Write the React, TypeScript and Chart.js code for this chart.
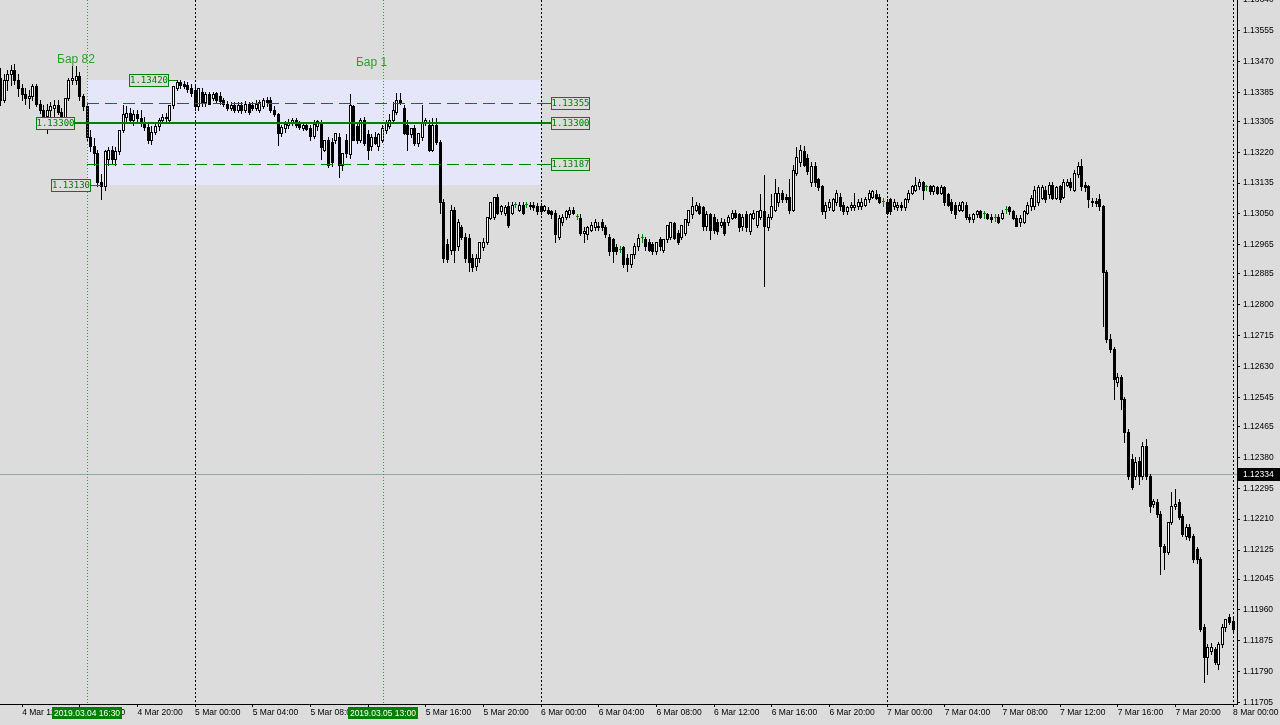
import { useEffect, useRef } from "react";
import { Chart, registerables } from "chart.js";

Chart.register(...registerables);

// EURUSD M15, 4 Mar 2019 10:30 ... 8 Mar 2019 00:00
// each candle: [open, high, low, close] in points (0.00001) above 1.10000
const BASE_PRICE = 1.1;
const POINT = 0.00001;
const candles: number[][] = [
  [3425,3453,3351,3365],[3365,3434,3359,3420],[3420,3447,3392,3434],[3434,3461,3406,3447],[3447,3464,3409,3420],
  [3420,3434,3376,3398],[3398,3409,3365,3379],[3379,3398,3354,3370],[3370,3392,3343,3376],[3376,3409,3365,3403],
  [3403,3409,3348,3354],[3354,3365,3329,3337],[3337,3351,3304,3321],[3321,3354,3274,3337],[3337,3359,3315,3348],
  [3343,3365,3321,3351],[3351,3365,3324,3332],[3332,3343,3310,3318],[3318,3370,3307,3370],[3370,3425,3365,3420],
  [3420,3458,3409,3425],[3420,3458,3409,3431],[3431,3442,3365,3376],[3376,3381,3337,3348],[3348,3354,3255,3263],
  [3263,3282,3222,3236],[3236,3260,3186,3219],[3219,3227,3126,3137],[3137,3159,3090,3126],[3126,3227,3117,3222],
  [3200,3233,3186,3227],[3227,3238,3189,3200],[3200,3233,3186,3222],[3222,3282,3214,3282],[3282,3351,3277,3324],
  [3318,3348,3304,3329],[3329,3343,3304,3310],[3310,3337,3296,3324],[3324,3337,3304,3315],[3315,3337,3293,3301],
  [3301,3318,3282,3290],[3290,3301,3246,3255],[3255,3293,3244,3277],[3277,3304,3269,3293],[3293,3315,3282,3310],
  [3310,3326,3304,3318],[3318,3329,3307,3315],[3310,3351,3304,3351],[3351,3401,3343,3401],[3398,3420,3392,3414],
  [3414,3420,3398,3406],[3409,3417,3398,3403],[3406,3414,3387,3395],[3398,3409,3376,3384],[3392,3403,3337,3346],
  [3346,3398,3337,3398],[3387,3398,3348,3357],[3357,3387,3346,3379],[3379,3387,3354,3354],[3370,3387,3365,3381],
  [3384,3387,3359,3365],[3376,3387,3354,3362],[3365,3370,3348,3354],[3354,3362,3337,3343],[3343,3359,3335,3351],
  [3351,3357,3332,3337],[3337,3359,3332,3351],[3351,3357,3329,3337],[3337,3362,3332,3354],[3354,3359,3326,3332],
  [3351,3357,3337,3343],[3343,3365,3337,3354],[3337,3365,3332,3357],[3348,3370,3343,3365],[3365,3373,3348,3357],
  [3365,3373,3332,3337],[3337,3348,3321,3324],[3324,3329,3241,3274],[3274,3296,3266,3290],[3288,3307,3277,3299],
  [3296,3312,3288,3304],[3304,3315,3296,3310],[3310,3315,3290,3296],[3299,3307,3285,3290],[3288,3304,3282,3296],
  [3296,3304,3280,3285],[3288,3296,3255,3266],[3266,3310,3260,3299],[3293,3310,3282,3307],[3304,3310,3200,3233],
  [3227,3255,3222,3255],[3255,3263,3178,3186],[3249,3260,3183,3192],[3255,3274,3246,3274],[3263,3274,3153,3186],
  [3186,3219,3172,3219],[3255,3269,3208,3219],[3214,3379,3205,3351],[3346,3351,3255,3255],[3291,3304,3246,3255],
  [3255,3315,3249,3310],[3310,3318,3241,3246],[3269,3282,3200,3227],[3236,3269,3227,3263],[3263,3277,3244,3246],
  [3236,3274,3227,3269],[3255,3296,3249,3288],[3282,3310,3274,3304],[3291,3324,3288,3310],[3310,3359,3304,3337],
  [3332,3384,3326,3365],[3365,3384,3354,3357],[3343,3351,3269,3274],[3296,3310,3227,3269],[3269,3288,3263,3288],
  [3288,3296,3241,3246],[3246,3274,3238,3274],[3263,3351,3255,3304],[3304,3315,3296,3310],[3296,3310,3222,3227],
  [3227,3315,3222,3296],[3296,3315,3244,3249],[3249,3255,3054,3082],[3082,3090,2917,2930],[2966,2980,2917,2925],
  [2952,3076,2939,3062],[3062,3068,2919,2952],[2961,3035,2952,3027],[3013,3021,2980,2988],[2988,2999,2919,2930],
  [2985,2994,2892,2919],[2930,2939,2892,2903],[2908,2939,2897,2930],[2930,2972,2919,2972],[2958,2985,2952,2974],
  [2972,3043,2966,3043],[3040,3084,3035,3084],[3043,3098,3035,3098],[3098,3104,3049,3054],[3057,3076,3049,3071],
  [3054,3076,3046,3068],[3071,3082,3013,3021],[3054,3084,3049,3076],[3076,3082,3068,3076],[3062,3082,3057,3076],
  [3076,3082,3049,3054],[3076,3082,3068,3076],[3071,3082,3065,3076],[3076,3082,3062,3068],[3071,3079,3051,3057],
  [3071,3079,3051,3057],[3062,3076,3057,3071],[3062,3068,3049,3054],[3057,3062,3040,3049],[3054,3062,2974,2994],
  [2988,3046,2980,3040],[3029,3051,3021,3043],[3043,3062,3035,3057],[3049,3068,3043,3062],[3062,3068,3049,3054],
  [3043,3051,3035,3043],[3040,3049,2991,2999],[2999,3013,2974,3002],[2994,3018,2980,3013],[3007,3029,3002,3021],
  [3013,3035,3007,3027],[3013,3029,3007,3018],[3027,3035,3007,3013],[3013,3021,2988,2994],[2988,2994,2936,2947],
  [2980,2985,2919,2947],[2958,2966,2939,2947],[2952,2961,2944,2952],[2958,2963,2903,2911],[2930,2939,2892,2911],
  [2911,2939,2903,2939],[2939,2969,2930,2961],[2961,2994,2952,2985],[2985,2996,2972,2985],[2980,2988,2952,2961],
  [2972,2980,2947,2952],[2966,2974,2939,2947],[2947,2974,2939,2974],[2980,2988,2952,2961],[2952,2980,2944,2980],
  [2980,3021,2974,3021],[2988,3029,2980,3029],[3024,3029,2980,2985],[2999,3007,2966,2974],[2988,3021,2980,3021],
  [2999,3035,2991,3035],[3027,3062,3021,3062],[3049,3098,3040,3071],[3062,3084,3057,3076],[3071,3079,3049,3054],
  [3068,3073,3007,3016],[3016,3057,3007,3049],[3049,3054,2980,3007],[3043,3049,2999,3007],[3029,3035,2996,3002],
  [3021,3038,3013,3029],[3029,3035,2991,2999],[3029,3046,3021,3043],[3040,3062,3035,3054],[3054,3062,3038,3043],
  [3049,3054,3004,3013],[3016,3051,3007,3043],[3049,3057,3002,3013],[3002,3054,2994,3049],[3040,3062,3035,3054],
  [3021,3057,3013,3057],[3043,3104,3035,3062],[3057,3156,2851,3016],[3013,3051,3007,3043],[3043,3104,3035,3071],
  [3062,3145,3057,3109],[3082,3123,3073,3109],[3109,3117,3082,3090],[3098,3106,3082,3090],[3098,3145,3054,3062],
  [3062,3186,3057,3172],[3164,3233,3156,3208],[3192,3241,3183,3227],[3222,3236,3181,3186],[3205,3214,3159,3167],
  [3137,3194,3128,3181],[3181,3192,3128,3137],[3145,3150,3117,3123],[3126,3131,3049,3057],[3057,3084,3040,3076],
  [3068,3090,3062,3082],[3062,3095,3057,3090],[3082,3117,3076,3109],[3098,3109,3062,3071],[3076,3082,3051,3057],
  [3057,3073,3051,3068],[3068,3082,3062,3076],[3068,3109,3062,3076],[3071,3090,3065,3082],[3071,3093,3065,3084],
  [3076,3098,3071,3090],[3090,3117,3084,3109],[3098,3117,3093,3112],[3106,3117,3090,3095],[3098,3106,3079,3084],
  [3084,3093,3073,3084],[3084,3090,3049,3054],[3090,3095,3051,3057],[3071,3090,3065,3082],[3068,3084,3062,3076],
  [3076,3082,3062,3068],[3068,3095,3062,3090],[3090,3117,3084,3109],[3109,3131,3104,3126],[3117,3153,3112,3131],
  [3126,3145,3120,3137],[3137,3142,3090,3117],[3123,3131,3115,3123],[3126,3131,3106,3112],[3112,3131,3106,3126],
  [3123,3128,3104,3109],[3109,3131,3104,3123],[3123,3128,3076,3082],[3104,3109,3071,3076],[3082,3090,3054,3062],
  [3076,3082,3040,3049],[3062,3082,3057,3076],[3062,3087,3057,3082],[3076,3082,3035,3043],[3043,3049,3029,3035],
  [3035,3054,3029,3049],[3049,3062,3043,3057],[3057,3062,3038,3043],[3049,3057,3040,3049],[3049,3054,3035,3040],
  [3043,3049,3029,3035],[3040,3049,3032,3040],[3043,3051,3024,3029],[3040,3060,3035,3054],[3062,3071,3054,3062],
  [3068,3073,3051,3057],[3057,3062,3035,3040],[3040,3046,3016,3018],[3027,3046,3018,3040],[3029,3062,3024,3057],
  [3054,3082,3049,3076],[3071,3101,3062,3095],[3071,3126,3065,3117],[3084,3131,3076,3123],[3095,3131,3090,3123],
  [3117,3128,3082,3090],[3104,3137,3095,3131],[3131,3139,3090,3095],[3095,3128,3090,3123],[3126,3131,3082,3090],
  [3098,3145,3093,3139],[3131,3145,3126,3139],[3139,3150,3115,3123],[3117,3172,3112,3164],[3159,3194,3153,3181],
  [3181,3200,3117,3126],[3131,3139,3112,3123],[3126,3131,3068,3090],[3082,3093,3073,3087],[3087,3093,3071,3079],
  [3090,3104,3062,3071],[3071,3076,2741,2889],[2889,2897,2697,2705],[2705,2719,2669,2677],[2677,2683,2540,2595],
  [2587,2611,2576,2600],[2600,2606,2512,2540],[2540,2546,2422,2449],[2449,2457,2320,2328],[2375,2389,2292,2298],
  [2328,2380,2320,2367],[2370,2380,2306,2328],[2328,2422,2320,2411],[2411,2430,2320,2328],[2328,2334,2229,2246],
  [2251,2265,2243,2259],[2257,2265,2215,2224],[2224,2232,2059,2136],[2136,2141,2072,2119],[2119,2202,2114,2202],
  [2202,2284,2196,2246],[2246,2292,2237,2251],[2257,2265,2210,2215],[2218,2224,2163,2169],[2163,2196,2155,2188],
  [2188,2196,2152,2160],[2163,2169,2092,2100],[2127,2133,2089,2100],[2100,2105,1902,1907],[1913,1921,1761,1830],
  [1830,1866,1784,1858],[1847,1870,1839,1858],[1852,1858,1811,1817],[1811,1872,1797,1866],[1866,1921,1858,1913],
  [1913,1935,1902,1935],[1940,1948,1921,1927],[1930,1943,1902,1907],
];

const priceTicks = [
  1.1364, 1.13555, 1.1347, 1.13385, 1.13305, 1.1322, 1.13135, 1.1305, 1.12965, 1.12885, 1.128, 1.12715,
  1.1263, 1.12545, 1.12465, 1.1238, 1.12295, 1.1221, 1.12125, 1.12045, 1.1196, 1.11875, 1.1179, 1.11705,
];
const timeTickBars = [6, 22, 38, 54, 70, 86, 102, 118, 134, 150, 166, 182, 198, 214, 230, 246, 262, 278, 294, 310, 326, 342];
const timeTickLabels = [
  "4 Mar 12:00", "4 Mar 16:00", "4 Mar 20:00", "5 Mar 00:00", "5 Mar 04:00", "5 Mar 08:00", "5 Mar 12:00",
  "5 Mar 16:00", "5 Mar 20:00", "6 Mar 00:00", "6 Mar 04:00", "6 Mar 08:00", "6 Mar 12:00", "6 Mar 16:00",
  "6 Mar 20:00", "7 Mar 00:00", "7 Mar 04:00", "7 Mar 08:00", "7 Mar 12:00", "7 Mar 16:00", "7 Mar 20:00",
  "8 Mar 00:00",
];
const daySeparatorBars = [54, 150, 246, 342];
const markerBars = [24, 106];
const markerNames = ["Бар 82", "Бар 1"];
const markerTimes = ["2019.03.04 16:30", "2019.03.05 13:00"];
const rangeBars = [24, 150];
const rangeHigh = 1.1342;
const rangeLow = 1.1313;
const rangeHighBar = 49;
const rangeLowBar = 28;
const levelMid = 1.133;
const levelUpper = 1.13355;
const levelLower = 1.13187;
const bidPrice = 1.12334;

const X_MIN = -0.14;
const X_MAX = 343.09;
const Y_MIN = 1.117012;
const Y_MAX = 1.13639;

const BG = "#dcdcdc";
const GREEN = "#008000";
const GREEN_LIGHT = "#2ca02c";
const AXIS_FONT = '"Liberation Sans", Arial, sans-serif';

const toPrice = (v: number) => BASE_PRICE + v * POINT;

function tag(ctx: any, left: number, yc: number, w: number, text: string) {
  const l = Math.round(left);
  const top = Math.round(yc) - 6;
  ctx.setLineDash([]);
  ctx.fillStyle = BG;
  ctx.fillRect(l, top, w, 13);
  ctx.strokeStyle = GREEN;
  ctx.lineWidth = 1;
  ctx.strokeRect(l + 0.5, top + 0.5, w - 1, 12);
  ctx.fillStyle = GREEN;
  ctx.font = '9px "DejaVu Sans Mono", monospace';
  ctx.textAlign = "center";
  ctx.textBaseline = "middle";
  ctx.fillText(text, l + w / 2, top + 7);
}

function hLine(ctx: any, x0: number, x1: number, y: number) {
  ctx.beginPath();
  ctx.moveTo(x0, y);
  ctx.lineTo(x1, y);
  ctx.stroke();
}
function vLine(ctx: any, x: number, y0: number, y1: number) {
  ctx.beginPath();
  ctx.moveTo(x, y0);
  ctx.lineTo(x, y1);
  ctx.stroke();
}

export default function App() {
  const ref = useRef<HTMLCanvasElement>(null);

  useEffect(() => {
    const canvas = ref.current;
    if (!canvas) return;

    const kinds = candles.map((c) => (c[3] > c[0] ? "up" : c[3] < c[0] ? "down" : "doji"));
    const bodies = candles.map((c, i) => ({ x: i, y: [toPrice(c[0]), toPrice(c[3])] }));
    const wicks = candles.map((c, i) => ({ x: i, y: [toPrice(c[2]), toPrice(c[1])] }));

    const overlay = {
      id: "overlay",
      beforeDraw(chart: any) {
        const { ctx, width, height } = chart;
        ctx.save();
        ctx.fillStyle = BG;
        ctx.fillRect(0, 0, width, height);
        ctx.restore();
      },
      beforeDatasetsDraw(chart: any) {
        const { ctx, chartArea: a, scales } = chart;
        const x = scales.x, y = scales.y;
        ctx.save();
        ctx.beginPath();
        ctx.rect(a.left, a.top, a.right - a.left, a.bottom - a.top);
        ctx.clip();
        // range rectangle
        const bx0 = Math.round(x.getPixelForValue(rangeBars[0]));
        const bx1 = Math.round(x.getPixelForValue(rangeBars[1]));
        const by0 = Math.round(y.getPixelForValue(rangeHigh));
        const by1 = Math.round(y.getPixelForValue(rangeLow));
        ctx.fillStyle = "#e6e6fa";
        ctx.fillRect(bx0, by0, bx1 - bx0, by1 - by0);
        // bid line
        ctx.strokeStyle = "#98a2b0";
        ctx.lineWidth = 1;
        hLine(ctx, a.left, a.right, Math.round(y.getPixelForValue(bidPrice)) + 0.5);
        // day separators
        ctx.strokeStyle = "#000";
        ctx.setLineDash([2, 2]);
        daySeparatorBars.forEach((b) => {
          const xx = Math.round(x.getPixelForValue(b)) + 0.5;
          vLine(ctx, xx, a.top, a.bottom);
        });
        ctx.restore();
      },
      beforeDatasetDraw(chart: any, args: any) {
        const { ctx, chartArea: a } = chart;
        const ds = chart.data.datasets[args.index];
        const isWick = ds.label === "wick";
        ctx.save();
        ctx.beginPath();
        ctx.rect(a.left, a.top, a.right - a.left, a.bottom - a.top);
        ctx.clip();
        args.meta.data.forEach((el: any, i: number) => {
          const p = el.getProps(["x", "y", "base"], true);
          const left = Math.round(p.x - 1.5);
          const top = Math.round(Math.min(p.y, p.base));
          const bot = Math.round(Math.max(p.y, p.base));
          const h = Math.max(1, bot - top);
          const k = kinds[i];
          if (isWick) {
            ctx.fillStyle = k === "doji" ? GREEN : "#000";
            ctx.fillRect(left + 1, top, 1, h + 1);
          } else if (k === "doji") {
            ctx.fillStyle = GREEN;
            ctx.fillRect(left, top, 3, 1);
          } else if (k === "up") {
            ctx.fillStyle = "#000";
            ctx.fillRect(left, top, 3, h + 1);
            if (h >= 2) {
              ctx.fillStyle = "#fff";
              ctx.fillRect(left + 1, top + 1, 1, h - 1);
            }
          } else {
            ctx.fillStyle = "#000";
            ctx.fillRect(left, top, 3, h + 1);
          }
        });
        ctx.restore();
        return false;
      },
      afterDatasetsDraw(chart: any) {
        const { ctx, chartArea: a, scales } = chart;
        const x = scales.x, y = scales.y;
        const lx0 = Math.round(x.getPixelForValue(rangeBars[0]));
        const lx1 = Math.round(x.getPixelForValue(rangeBars[1]));
        ctx.save();
        // marker vertical dotted lines
        ctx.strokeStyle = GREEN_LIGHT;
        ctx.lineWidth = 1;
        ctx.setLineDash([1, 2]);
        markerBars.forEach((b) => {
          const xx = Math.round(x.getPixelForValue(b)) + 0.5;
          vLine(ctx, xx, a.top, a.bottom);
        });
        // marker titles
        ctx.setLineDash([]);
        ctx.fillStyle = GREEN_LIGHT;
        ctx.font = '12px "Liberation Sans", Arial, sans-serif';
        ctx.textAlign = "center";
        ctx.textBaseline = "alphabetic";
        const titleY = [63, 66];
        markerBars.forEach((b, i) => {
          ctx.fillText(markerNames[i], x.getPixelForValue(b) - 11, a.top + titleY[i]);
        });
        // mid level (solid)
        const ym = Math.round(y.getPixelForValue(levelMid));
        ctx.fillStyle = GREEN;
        ctx.fillRect(lx0 - 12, ym - 1, lx1 + 10 - (lx0 - 12), 2);
        // dashed levels
        ctx.strokeStyle = GREEN;
        ctx.lineWidth = 1;
        [levelUpper, levelLower].forEach((lv) => {
          const yy = Math.round(y.getPixelForValue(lv)) + 0.5;
          ctx.strokeStyle = GREEN;
          ctx.setLineDash([12, 6]);
          hLine(ctx, lx0, lx1, yy);
          ctx.setLineDash([]);
          hLine(ctx, lx1, lx1 + 10, yy);
        });
        // high / low connectors
        const xh = Math.round(x.getPixelForValue(rangeHighBar));
        const yh = Math.round(y.getPixelForValue(rangeHigh)) + 0.5;
        hLine(ctx, xh - 8, xh, yh);
        const xl = Math.round(x.getPixelForValue(rangeLowBar));
        const yl = Math.round(y.getPixelForValue(rangeLow)) + 0.5;
        hLine(ctx, xl - 10, xl, yl);
        // tags
        tag(ctx, lx1 + 10, y.getPixelForValue(levelUpper), 39, levelUpper.toFixed(5));
        tag(ctx, lx1 + 10, y.getPixelForValue(levelMid), 39, levelMid.toFixed(5));
        tag(ctx, lx1 + 10, y.getPixelForValue(levelLower), 39, levelLower.toFixed(5));
        tag(ctx, lx0 - 51, y.getPixelForValue(levelMid), 39, levelMid.toFixed(5));
        tag(ctx, xh - 48, y.getPixelForValue(rangeHigh), 40, rangeHigh.toFixed(5));
        tag(ctx, xl - 50, y.getPixelForValue(rangeLow), 40, rangeLow.toFixed(5));
        ctx.restore();
      },
      afterDraw(chart: any) {
        const { ctx, chartArea: a, scales, width } = chart;
        const x = scales.x, y = scales.y;
        ctx.save();
        ctx.font = '8.5px ' + AXIS_FONT;
        ctx.textBaseline = "middle";
        // time badges
        markerBars.forEach((b, i) => {
          const cx = Math.round(x.getPixelForValue(b));
          ctx.fillStyle = GREEN;
          ctx.fillRect(cx - 35, a.bottom + 3, 70, 12);
          ctx.fillStyle = "#fff";
          ctx.textAlign = "center";
          ctx.fillText(markerTimes[i], cx, a.bottom + 9.5);
        });
        // bid badge
        const yb = Math.round(y.getPixelForValue(bidPrice));
        ctx.fillStyle = "#000";
        ctx.fillRect(a.right + 1, yb - 6, width - a.right - 1, 13);
        ctx.fillStyle = "#fff";
        ctx.textAlign = "left";
        ctx.fillText(bidPrice.toFixed(5), a.right + 6, yb + 0.5);
        ctx.restore();
      },
    };

    const chart = new Chart(canvas, {
      type: "bar",
      data: {
        datasets: [
          {
            label: "body",
            data: bodies as any,
            order: 1,
            grouped: false,
            barThickness: 3,
            minBarLength: 1,
            backgroundColor: kinds.map((k) => (k === "up" ? "#fff" : k === "down" ? "#000" : GREEN)),
            borderColor: kinds.map((k) => (k === "doji" ? GREEN : "#000")),
            borderWidth: 0,
          },
          {
            label: "wick",
            data: wicks as any,
            order: 2,
            grouped: false,
            barThickness: 1,
            backgroundColor: kinds.map((k) => (k === "doji" ? GREEN : "#000")),
            borderWidth: 0,
          },
        ],
      },
      plugins: [overlay],
      options: {
        animation: false,
        responsive: false,
        devicePixelRatio: 1,
        events: [],
        layout: { padding: 0 },
        plugins: { legend: { display: false }, tooltip: { enabled: false } },
        scales: {
          x: {
            type: "linear",
            min: X_MIN,
            max: X_MAX,
            bounds: "data",
            offset: false,
            grid: { display: true, drawOnChartArea: false, drawTicks: true, tickLength: 3, color: "#000", offset: false },
            border: { display: true, color: "#000", width: 1 },
            ticks: {
              autoSkip: false,
              maxRotation: 0,
              minRotation: 0,
              align: "start",
              padding: 1,
              color: "#000",
              font: { family: AXIS_FONT, size: 8.5 },
              callback: (_v: any, i: number) => timeTickLabels[i],
            },
            afterBuildTicks: (s: any) => {
              s.ticks = timeTickBars.map((v) => ({ value: v }));
            },
            afterFit: (s: any) => {
              s.height = 21;
              s.paddingLeft = 0;
              s.paddingRight = 0;
            },
          } as any,
          y: {
            type: "linear",
            position: "right",
            min: Y_MIN,
            max: Y_MAX,
            bounds: "data",
            grid: { display: true, drawOnChartArea: false, drawTicks: true, tickLength: 3, color: "#000" },
            border: { display: true, color: "#000", width: 1 },
            ticks: {
              padding: 3,
              color: "#000",
              font: { family: AXIS_FONT, size: 8.5 },
              callback: (v: any) => Number(v).toFixed(5),
            },
            afterBuildTicks: (s: any) => {
              s.ticks = priceTicks.map((v) => ({ value: v }));
            },
            afterFit: (s: any) => {
              s.width = 43;
              s.paddingTop = 0;
              s.paddingBottom = 0;
            },
          } as any,
        },
      } as any,
    });

    return () => chart.destroy();
  }, []);

  return (
    <div style={{ position: "fixed", left: 0, top: 0, width: 1280, height: 725, background: BG }}>
      <canvas ref={ref} width={1280} height={725} style={{ display: "block", width: 1280, height: 725 }} />
    </div>
  );
}
